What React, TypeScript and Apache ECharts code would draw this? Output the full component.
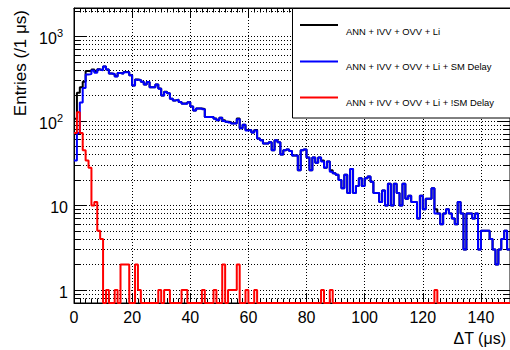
import React, { useEffect, useRef } from 'react';
import * as echarts from 'echarts';

// ---- data (1 µs bins from 0 to 150 µs) ----
const X_MIN = 0;
const X_MAX = 150;
const BIN_WIDTH = 1;
const Y_MIN = 0.7;
const Y_MAX = 2170;

const X_TICK_VALUES = [0, 20, 40, 60, 80, 100, 120, 140];
const X_TICK_LABELS = ['0', '20', '40', '60', '80', '100', '120', '140'];
const Y_TICK_VALUES = [1, 10, 100, 1000];
const Y_TICK_BASES = ['1', '10', '10', '10'];
const Y_TICK_EXPONENTS = ['', '', '2', '3'];

const X_TITLE = 'ΔT (μs)';
const Y_TITLE = 'Entries (/1 μs)';

const LEGEND_LABELS = [
  'ANN + IVV + OVV + Li',
  'ANN + IVV + OVV + Li + SM Delay',
  'ANN + IVV + OVV + Li + !SM Delay',
];
const SERIES_COLORS = ['#000000', '#0000ff', '#ff0000'];

// ANN + IVV + OVV + Li
const allCounts = [
  106, 215, 250, 290, 389, 386, 405, 383, 410, 402,
  440, 406, 365, 360, 337, 368, 364, 380, 380, 346,
  263, 310, 306, 290, 270, 288, 251, 251, 270, 242,
  200, 221, 213, 183, 175, 178, 168, 161, 161, 166,
  148, 133, 140, 140, 138, 111, 111, 111, 107, 102,
  109, 102, 98, 97, 94, 94, 107, 82, 90, 78,
  78, 73, 78, 62, 59, 54, 54, 56, 45, 59,
  56, 40, 45, 46, 44, 39, 39, 26, 45, 46,
  37, 26, 37, 32, 37, 34, 28, 33, 26, 24,
  23, 20, 16, 23, 14, 27, 14, 17, 21, 17,
  21, 22, 19, 14, 14, 11, 15, 10, 18, 10,
  18, 14, 10, 18, 12, 13, 11, 11, 7, 13,
  9, 12, 12, 16, 9, 8, 6, 8, 9, 8,
  7, 6, 11, 8, 3, 8, 8, 7, 8, 3,
  5, 5, 5, 4, 3, 2, 3, 4, 5, 3,
];

// ANN + IVV + OVV + Li + SM Delay
const smDelayCounts = [
  34, 72, 165, 245, 355, 358, 395, 372, 405, 398,
  440, 405, 365, 360, 336, 368, 362, 378, 378, 346,
  263, 308, 305, 290, 270, 288, 251, 251, 270, 241,
  200, 220, 212, 183, 175, 178, 168, 160, 160, 166,
  148, 133, 140, 140, 137, 111, 111, 111, 106, 102,
  109, 100, 98, 96, 93, 93, 105, 82, 90, 77,
  78, 73, 77, 62, 59, 54, 54, 56, 45, 59,
  56, 40, 45, 46, 44, 39, 39, 26, 45, 46,
  37, 26, 37, 32, 37, 33, 28, 33, 25, 24,
  23, 20, 16, 23, 14, 27, 14, 17, 21, 17,
  21, 22, 19, 14, 14, 11, 15, 10, 18, 10,
  18, 14, 10, 18, 12, 13, 11, 11, 7, 13,
  9, 12, 12, 16, 8, 8, 6, 8, 9, 8,
  7, 6, 11, 8, 3, 8, 8, 7, 8, 3,
  5, 5, 5, 4, 3, 2, 3, 4, 5, 3,
];

// ANN + IVV + OVV + Li + !SM Delay
const notSmDelayCounts = [
  72, 127, 72, 45, 34, 28, 10, 11, 5, 4,
  0, 1, 0, 0, 1, 0, 2, 2, 2, 0,
  0, 2, 1, 0, 0, 0, 0, 0, 0, 1,
  0, 1, 1, 0, 0, 0, 0, 1, 1, 0,
  0, 0, 0, 0, 1, 0, 0, 0, 1, 0,
  0, 2, 0, 1, 1, 1, 2, 0, 0, 1,
  0, 0, 1, 0, 0, 0, 0, 0, 0, 0,
  0, 0, 0, 0, 0, 0, 0, 0, 0, 0,
  0, 0, 0, 0, 0, 1, 0, 0, 1, 0,
  0, 0, 0, 0, 0, 0, 0, 0, 0, 0,
  0, 0, 0, 0, 0, 0, 0, 0, 0, 0,
  0, 0, 0, 0, 0, 0, 0, 0, 0, 0,
  0, 0, 0, 0, 1, 0, 0, 0, 0, 0,
  0, 0, 0, 0, 0, 0, 0, 0, 0, 0,
  0, 0, 0, 0, 0, 0, 0, 0, 0, 0,
];

const FONT = "'Liberation Sans', Arial, Helvetica, sans-serif";

// histogram outline: one point per bin low edge, plus closing point at the last high edge
function toSteps(counts: number[]) {
  const pts: [number, number][] = counts.map((c, i) => [X_MIN + i * BIN_WIDTH, c > 0 ? c : Y_MIN]);
  const last = counts[counts.length - 1];
  pts.push([X_MIN + counts.length * BIN_WIDTH, last > 0 ? last : Y_MIN]);
  return pts;
}

const dotted = { color: '#000', width: 1, type: [1, 2] as any };

export default function App() {
  const ref = useRef<HTMLDivElement>(null);

  useEffect(() => {
    if (!ref.current) return;
    const chart = echarts.init(ref.current, undefined, { renderer: 'svg' });

    const yLabel = (v: number) => {
      const idx = Y_TICK_VALUES.findIndex((t) => Math.abs(t - v) / t < 1e-6);
      if (idx < 0) return '';
      const exp = Y_TICK_EXPONENTS[idx];
      return exp ? `{b|${Y_TICK_BASES[idx]}}{s|${exp}}` : `{b|${Y_TICK_BASES[idx]}}`;
    };
    const xLabel = (v: number) => {
      const idx = X_TICK_VALUES.indexOf(v);
      return idx < 0 ? '' : X_TICK_LABELS[idx];
    };

    const allSeries = [allCounts, smDelayCounts, notSmDelayCounts].map((counts, i) => ({
      name: LEGEND_LABELS[i],
      type: 'line',
      step: 'end',
      data: toSteps(counts),
      showSymbol: false,
      symbol: 'none',
      clip: true,
      lineStyle: { color: SERIES_COLORS[i], width: 2 },
      itemStyle: { color: SERIES_COLORS[i] },
      z: 3 + i,
    }));

    const legendGraphics: any[] = [
      {
        type: 'rect',
        z: 100,
        shape: { x: 292.5, y: 8.5, width: 230, height: 109.5 },
        style: { fill: '#fff', stroke: '#000', lineWidth: 1 },
      },
    ];
    const rowY = [25, 61.5, 97.5];
    const textY = [31, 66, 102];
    LEGEND_LABELS.forEach((label, i) => {
      legendGraphics.push({
        type: 'line',
        z: 101,
        shape: { x1: 300, y1: rowY[i], x2: 338, y2: rowY[i] },
        style: { stroke: SERIES_COLORS[i], lineWidth: 2 },
      });
      legendGraphics.push({
        type: 'text',
        z: 101,
        x: 346,
        y: textY[i],
        style: { text: label, fontSize: 9.4, fontFamily: FONT, fill: '#000', verticalAlign: 'middle', align: 'left' },
      });
    });

    const option: any = {
      animation: false,
      backgroundColor: '#fff',
      grid: {
        left: 74,
        right: 0,
        top: 8,
        bottom: 47,
        show: true,
        borderColor: '#000',
        borderWidth: 1,
        backgroundColor: 'transparent',
        containLabel: false,
        outerBoundsMode: 'none',
      },
      xAxis: [
        {
          type: 'value',
          min: X_MIN,
          max: X_MAX,
          interval: 20,
          position: 'bottom',
          axisLine: { show: true, onZero: false, lineStyle: { color: '#000', width: 1 } },
          axisTick: { show: true, inside: true, length: 9, lineStyle: { color: '#000' } },
          minorTick: { show: true, splitNumber: 10, length: 4.5, lineStyle: { color: '#000' } },
          splitLine: { show: true, lineStyle: dotted },
          axisLabel: {
            show: true,
            showMaxLabel: false,
            margin: 6,
            fontSize: 16,
            fontFamily: FONT,
            color: '#000',
            formatter: xLabel,
          },
        },
        {
          type: 'value',
          min: X_MIN,
          max: X_MAX,
          interval: 20,
          position: 'top',
          axisLine: { show: true, onZero: false, lineStyle: { color: '#000', width: 1 } },
          axisTick: { show: true, inside: true, length: 9, lineStyle: { color: '#000' } },
          minorTick: { show: true, splitNumber: 10, length: 4.5, lineStyle: { color: '#000' } },
          splitLine: { show: false },
          axisLabel: { show: false },
        },
      ],
      yAxis: [
        {
          type: 'log',
          logBase: 10,
          min: Y_MIN,
          max: Y_MAX,
          position: 'left',
          axisLine: { show: true, onZero: false, lineStyle: { color: '#000', width: 1 } },
          axisTick: { show: true, inside: true, length: 13, lineStyle: { color: '#000' } },
          minorTick: { show: true, splitNumber: 9, length: 7, lineStyle: { color: '#000' } },
          splitLine: { show: true, lineStyle: dotted },
          minorSplitLine: { show: true, lineStyle: dotted },
          axisLabel: {
            show: true,
            showMinLabel: false,
            showMaxLabel: false,
            margin: 6,
            padding: [5, 0, 0, 0],
            formatter: yLabel,
            rich: {
              b: { fontSize: 16, fontFamily: FONT, color: '#000', lineHeight: 22 },
              s: { fontSize: 11, fontFamily: FONT, color: '#000', verticalAlign: 'top', lineHeight: 12, padding: [0, 5, 0, 0] },
            },
          },
        },
        {
          type: 'log',
          logBase: 10,
          min: Y_MIN,
          max: Y_MAX,
          position: 'right',
          axisLine: { show: true, onZero: false, lineStyle: { color: '#000', width: 1 } },
          axisTick: { show: true, inside: true, length: 13, lineStyle: { color: '#000' } },
          minorTick: { show: true, splitNumber: 9, length: 7, lineStyle: { color: '#000' } },
          splitLine: { show: false },
          axisLabel: { show: false },
        },
      ],
      series: allSeries,
      graphic: [
        ...legendGraphics,
        {
          type: 'text',
          z: 50,
          x: 20.5,
          y: 10,
          rotation: Math.PI / 2,
          style: { text: Y_TITLE, fontSize: 17, fontFamily: FONT, fill: '#000', align: 'right', verticalAlign: 'middle' },
        },
        {
          type: 'text',
          z: 50,
          x: 506,
          y: 338,
          style: { text: X_TITLE, fontSize: 16, fontFamily: FONT, fill: '#000', align: 'right', verticalAlign: 'middle' },
        },
      ],
    };

    chart.setOption(option);
    return () => chart.dispose();
  }, []);

  return <div ref={ref} style={{ width: 510, height: 350, position: 'absolute', left: 0, top: 0 }} />;
}
